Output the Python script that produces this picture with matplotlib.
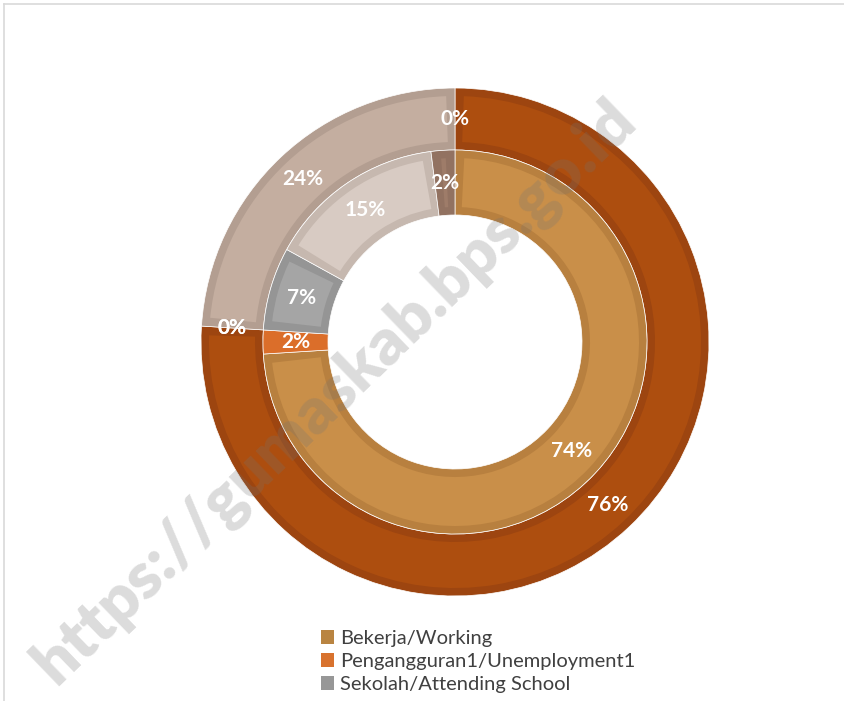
import numpy as np
import matplotlib
matplotlib.use("Agg")
import matplotlib.pyplot as plt
from matplotlib.patches import Wedge, Patch
from matplotlib.lines import Line2D

plt.rcParams['font.family'] = ['Lato', 'DejaVu Sans']

# data
categories = ['Bekerja/Working', 'Pengangguran1/Unemployment1', 'Sekolah/Attending School',
              'Mengurus Rumah Tangga/Housekeeping', 'Lainnya/Others']
outer_vals = [76, 0, 0, 24, 0]
inner_vals = [74, 2, 7, 15, 2]

outer_fill = ['#AD4E0F', '#AD4E0F', '#A5A5A5', '#C4AEA0', '#9E7C69']
outer_edge = ['#9D4510', '#9D4510', '#959595', '#B39E91', '#8E6E5C']
inner_fill = ['#C98F49', '#DB6E2A', '#A5A5A5', '#D8CBC3', '#9E7C69']
inner_edge = ['#B8803F', '#DB6E2A', '#959595', '#C6B8AF', '#927261']
legend_cols = ['#B98441', '#D8722E', '#979797']

W, H = 845, 701
cx, cy = 455, H - 342
r_out, r_mid, r_in = 254, 192, 127

fig = plt.figure(figsize=(W / 100, H / 100), dpi=100)
ax = fig.add_axes([0, 0, 1, 1])


def ring(vals, fills, edges, radius, width, b):
    # base pieces in the darker border colour
    wedges, _ = ax.pie(vals, radius=radius, center=(cx, cy), startangle=90,
                       counterclock=False, colors=edges, frame=True,
                       wedgeprops=dict(width=width, edgecolor='white', linewidth=0.5))
    rm = radius - width / 2
    for w, v, fc in zip(wedges, vals, fills):
        if v == 0:
            w.set_visible(False)
            continue
        # lighter inset piece on top
        da = np.rad2deg(b / rm)
        t1, t2 = w.theta1 + da, w.theta2 - da
        if t2 > t1:
            ax.add_patch(Wedge((cx, cy), radius - b, t1, t2, width=width - 2 * b,
                               facecolor=fc, edgecolor='none', zorder=w.get_zorder() + 0.1))
    # labels in the middle of each piece
    cum = np.cumsum([0] + list(vals))
    tot = cum[-1]
    for i, v in enumerate(vals):
        a = np.deg2rad(90 - 360 * (cum[i] + v / 2) / tot)
        ax.text(cx + rm * np.cos(a), cy + rm * np.sin(a), f'{v}%',
                ha='center', va='center', color='white', fontsize=15,
                fontweight='bold', zorder=5)


ring(outer_vals, outer_fill, outer_edge, r_out, r_out - r_mid, 8)
ring(inner_vals, inner_fill, inner_edge, r_mid, r_mid - r_in, 8)

ax.set_xlim(0, W)
ax.set_ylim(0, H)
ax.set_aspect('equal')
ax.axis('off')

# legend (only first three entries visible)
handles = [Patch(facecolor=c, edgecolor='none') for c in legend_cols]
fig.legend(handles, categories[:3], loc='upper left', bbox_to_anchor=(311 / W, 1 - 620 / H),
           frameon=False, fontsize=14.5, labelcolor='#404040', handlelength=0.65,
           handleheight=0.65, handletextpad=0.3, labelspacing=0.3, borderpad=0)

# watermark
ax.text(335, H - 392, 'https://gumaskab.bps.go.id', rotation=44, ha='center', va='center',
        fontsize=47, fontweight='heavy', color='0.45', alpha=0.25, zorder=6)

# chart frame (top and left edges visible)
fig.lines.append(Line2D([4 / W, 1], [1 - 4 / H, 1 - 4 / H], transform=fig.transFigure,
                        color='#D9D9D9', linewidth=1.2))
fig.lines.append(Line2D([4 / W, 4 / W], [0, 1 - 4 / H], transform=fig.transFigure,
                        color='#D9D9D9', linewidth=1.2))

fig.savefig('out.png', dpi=100)
